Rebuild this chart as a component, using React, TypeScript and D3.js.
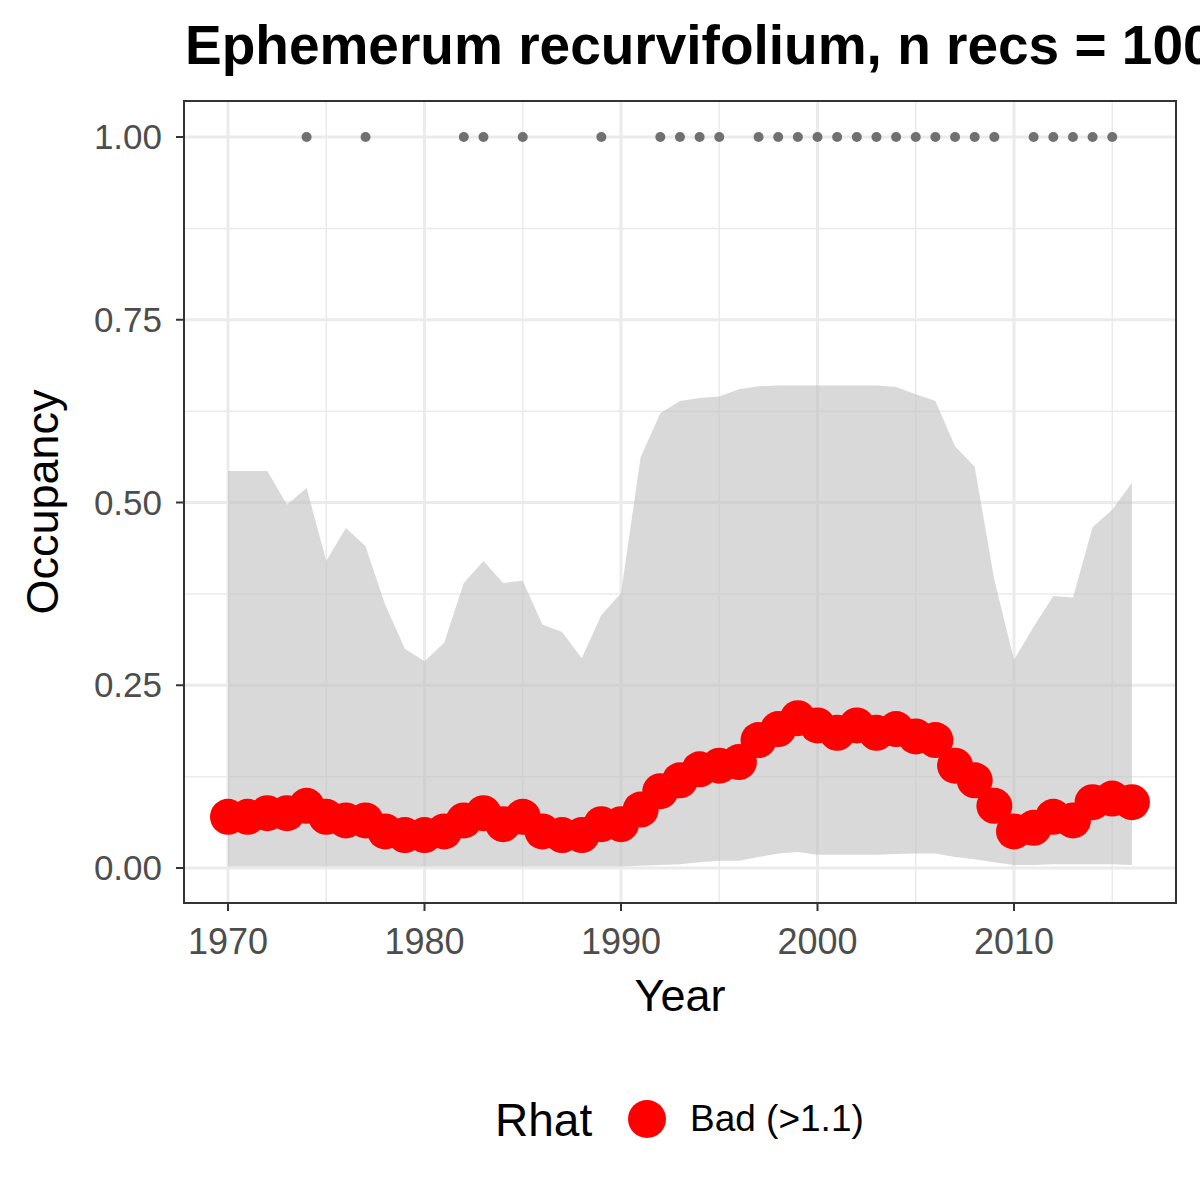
import React from "react";
import * as d3 from "d3";

const years = d3.range(1970, 2017);
const mean = [0.07,0.07,0.075,0.075,0.085,0.07,0.065,0.065,0.05,0.045,0.045,0.05,0.065,0.075,0.06,0.07,0.05,0.045,0.045,0.06,0.06,0.08,0.105,0.12,0.135,0.14,0.145,0.175,0.19,0.205,0.195,0.185,0.195,0.185,0.19,0.18,0.175,0.14,0.12,0.085,0.05,0.055,0.07,0.065,0.09,0.095,0.09];
const upper = [0.543,0.543,0.543,0.497,0.52,0.42,0.465,0.44,0.36,0.30,0.283,0.308,0.39,0.42,0.39,0.393,0.333,0.323,0.287,0.346,0.376,0.562,0.622,0.639,0.643,0.645,0.655,0.659,0.66,0.66,0.66,0.66,0.66,0.66,0.658,0.648,0.639,0.577,0.549,0.394,0.285,0.33,0.372,0.37,0.466,0.49,0.527];
const lower = [0.002,0.002,0.002,0.002,0.002,0.002,0.002,0.002,0.002,0.002,0.002,0.002,0.002,0.002,0.002,0.002,0.002,0.002,0.002,0.002,0.002,0.003,0.004,0.005,0.008,0.01,0.01,0.015,0.02,0.022,0.018,0.018,0.018,0.018,0.019,0.02,0.02,0.015,0.012,0.008,0.004,0.004,0.005,0.005,0.005,0.005,0.004];
const recYears = [1974,1977,1982,1983,1985,1989,1992,1993,1994,1995,1997,1998,1999,2000,2001,2002,2003,2004,2005,2006,2007,2008,2009,2011,2012,2013,2014,2015];
const xTicks = [1970,1980,1990,2000,2010];
const xMinor = [1975,1985,1995,2005,2015];
const yTicks = [0,0.25,0.5,0.75,1];
const yMinor = [0.125,0.375,0.625,0.875];

export default function App() {
  const L = 184, R = 1176, T = 101, B = 903;
  const x = d3.scaleLinear().domain([1970, 2010]).range([228, 1014]);
  const y = d3.scaleLinear().domain([0, 1]).range([868, 137]);
  const area = d3.area<number>().x((_, i) => x(years[i])).y0((_, i) => y(lower[i])).y1((_, i) => y(upper[i]));
  const font = "Arial, 'Liberation Sans', sans-serif";
  return (
    <svg width={1200} height={1200} style={{ position: "absolute", left: 0, top: 0, background: "#fff" }} fontFamily={font}>
      <text x={185} y={64} fontSize={55} fontWeight="bold">Ephemerum recurvifolium, n recs = 100</text>
      <rect x={L} y={T} width={R - L} height={B - T} fill="#fff" />
      {xMinor.map(t => <line key={"xm" + t} x1={x(t)} x2={x(t)} y1={T} y2={B} stroke="#ebebeb" strokeWidth={1.5} />)}
      {yMinor.map(t => <line key={"ym" + t} x1={L} x2={R} y1={y(t)} y2={y(t)} stroke="#ebebeb" strokeWidth={1.5} />)}
      {xTicks.map(t => <line key={"x" + t} x1={x(t)} x2={x(t)} y1={T} y2={B} stroke="#ebebeb" strokeWidth={3} />)}
      {yTicks.map(t => <line key={"y" + t} x1={L} x2={R} y1={y(t)} y2={y(t)} stroke="#ebebeb" strokeWidth={3} />)}
      <path d={area(years) || ""} fill="#bfbfbf" opacity={0.6} />
      {recYears.map(t => <circle key={"r" + t} cx={x(t)} cy={y(1)} r={5} fill="#707070" />)}
      {years.map((t, i) => <circle key={"p" + t} cx={x(t)} cy={y(mean[i])} r={18} fill="#ff0000" />)}
      <rect x={L} y={T} width={R - L} height={B - T} fill="none" stroke="#333" strokeWidth={2} />
      {yTicks.map(t => (
        <g key={"yl" + t}>
          <line x1={L - 8} x2={L} y1={y(t)} y2={y(t)} stroke="#333" strokeWidth={2} />
          <text x={L - 22} y={y(t) + 12} fontSize={35} fill="#4d4d4d" textAnchor="end">{t.toFixed(2)}</text>
        </g>
      ))}
      {xTicks.map(t => (
        <g key={"xl" + t}>
          <line x1={x(t)} x2={x(t)} y1={B} y2={B + 8} stroke="#333" strokeWidth={2} />
          <text x={x(t)} y={B + 51} fontSize={36} fill="#4d4d4d" textAnchor="middle">{t}</text>
        </g>
      ))}
      <text x={680} y={1011} fontSize={45} textAnchor="middle">Year</text>
      <text transform={`translate(58,${(T + B) / 2}) rotate(-90)`} fontSize={45} textAnchor="middle">Occupancy</text>
      <text x={495} y={1136} fontSize={46}>Rhat</text>
      <circle cx={647} cy={1119} r={19} fill="#ff0000" />
      <text x={690} y={1131} fontSize={37}>Bad (&gt;1.1)</text>
    </svg>
  );
}
